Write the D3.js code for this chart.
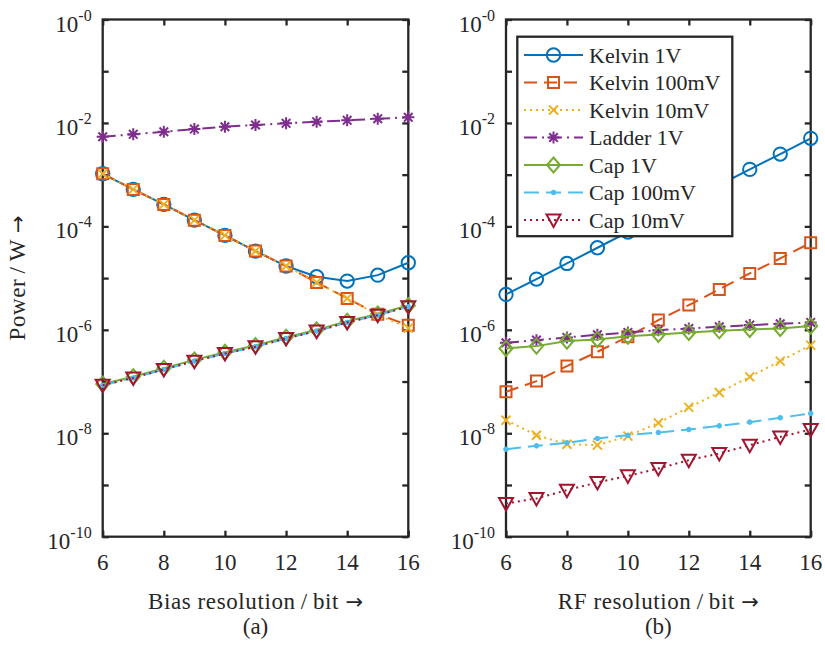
<!DOCTYPE html>
<html>
<head>
<meta charset="utf-8">
<script src="https://cdn.jsdelivr.net/npm/d3@7"></script>
<style>
  html, body { margin: 0; padding: 0; background: #fff; }
  svg { display: block; }
  text { fill: #262626; }
</style>
</head>
<body>
<svg id="chart" width="825" height="645"></svg>
<script>
// Resolution in bits (shared x values of both panels)
const bits = [6, 7, 8, 9, 10, 11, 12, 13, 14, 15, 16];
const xTickValues = [6, 8, 10, 12, 14, 16];
const yTickExponents = [0, -1, -2, -3, -4, -5, -6, -7, -8, -9, -10];
const yLabelExponents = [0, -2, -4, -6, -8, -10];

const seriesNames = ["Kelvin 1V", "Kelvin 100mV", "Kelvin 10mV", "Ladder 1V", "Cap 1V", "Cap 100mV", "Cap 10mV"];

// (a) power versus bias resolution, in W
const biasKelvin1V   = [1.04e-3, 5.19e-4, 2.66e-4, 1.32e-4, 6.70e-5, 3.33e-5, 1.71e-5, 1.06e-5, 8.75e-6, 1.14e-5, 1.98e-5];
const biasKelvin100m = [1.04e-3, 5.19e-4, 2.66e-4, 1.32e-4, 6.70e-5, 3.33e-5, 1.71e-5, 8.26e-6, 4.05e-6, 2.00e-6, 1.23e-6];
const biasKelvin10m  = [1.04e-3, 5.19e-4, 2.66e-4, 1.32e-4, 6.70e-5, 3.33e-5, 1.71e-5, 8.26e-6, 4.05e-6, 1.95e-6, 1.08e-6];
const biasLadder1V   = [5.41e-3, 6.03e-3, 6.76e-3, 7.62e-3, 8.45e-3, 9.12e-3, 9.82e-3, 1.057e-2, 1.122e-2, 1.208e-2, 1.282e-2];
const biasCap1V      = [9.00e-8, 1.24e-7, 1.81e-7, 2.62e-7, 3.68e-7, 4.96e-7, 7.20e-7, 9.97e-7, 1.47e-6, 2.03e-6, 2.95e-6];
const biasCap100m    = [8.51e-8, 1.175e-7, 1.714e-7, 2.48e-7, 3.49e-7, 4.70e-7, 6.82e-7, 9.44e-7, 1.39e-6, 1.92e-6, 2.79e-6];
const biasCap10m     = [8.51e-8, 1.175e-7, 1.714e-7, 2.48e-7, 3.49e-7, 4.70e-7, 6.82e-7, 9.44e-7, 1.39e-6, 1.92e-6, 2.79e-6];

// (b) power versus RF resolution, in W
const rfKelvin1V   = [4.83e-6, 9.57e-6, 1.92e-5, 3.86e-5, 7.76e-5, 1.55e-4, 3.09e-4, 6.31e-4, 1.265e-3, 2.50e-3, 5.04e-3];
const rfKelvin100m = [6.32e-8, 1.02e-7, 1.99e-7, 3.76e-7, 7.33e-7, 1.54e-6, 3.01e-6, 6.04e-6, 1.23e-5, 2.40e-5, 4.82e-5];
const rfKelvin10m  = [1.79e-8, 9.18e-9, 6.15e-9, 5.89e-9, 8.79e-9, 1.59e-8, 3.16e-8, 6.15e-8, 1.23e-7, 2.48e-7, 5.06e-7];
const rfLadder1V   = [5.61e-7, 6.32e-7, 7.13e-7, 8.02e-7, 8.91e-7, 9.86e-7, 1.062e-6, 1.143e-6, 1.233e-6, 1.306e-6, 1.39e-6];
const rfCap1V      = [4.37e-7, 4.84e-7, 6.05e-7, 6.52e-7, 7.55e-7, 8.15e-7, 8.91e-7, 9.57e-7, 1.016e-6, 1.062e-6, 1.18e-6];
const rfCap100m    = [4.92e-9, 5.71e-9, 6.53e-9, 7.94e-9, 9.18e-9, 1.035e-8, 1.18e-8, 1.39e-8, 1.64e-8, 1.99e-8, 2.42e-8];
const rfCap10m     = [4.39e-10, 5.48e-10, 7.94e-10, 1.12e-9, 1.50e-9, 2.08e-9, 3.02e-9, 4.07e-9, 5.89e-9, 8.51e-9, 1.18e-8];

const biasSeries = [biasKelvin1V, biasKelvin100m, biasKelvin10m, biasLadder1V, biasCap1V, biasCap100m, biasCap10m];
const rfSeries   = [rfKelvin1V, rfKelvin100m, rfKelvin10m, rfLadder1V, rfCap1V, rfCap100m, rfCap10m];

// line / marker styling per series
const styles = [
  { color: "#0072BD", dash: null,          marker: "circle"   },
  { color: "#D95319", dash: "13,7",        marker: "square"   },
  { color: "#EDB120", dash: "2,4",         marker: "x"        },
  { color: "#7E2F8E", dash: "13,5,2,5",    marker: "asterisk" },
  { color: "#77AC30", dash: null,          marker: "diamond"  },
  { color: "#4DBEEE", dash: "15,7",        marker: "dot"      },
  { color: "#A2142F", dash: "2,4",         marker: "triangleDown" }
];

const markerPaths = {
  circle: d3.symbol(d3.symbolCircle, 140)(),
  square: "M-5.5,-5.5H5.5V5.5H-5.5Z",
  x: "M-4.5,-4.5L4.5,4.5M-4.5,4.5L4.5,-4.5",
  asterisk: "M-6,0H6M0,-6V6M-4.3,-4.3L4.3,4.3M-4.3,4.3L4.3,-4.3",
  diamond: "M0,-7.5L6.5,0L0,7.5L-6.5,0Z",
  dot: d3.symbol(d3.symbolCircle, 10)(),
  triangleDown: "M-7,-5.5L7,-5.5L0,7Z"
};

const fontStack = "'Liberation Serif', 'Times New Roman', Tinos, 'DejaVu Serif', serif";
const arrowFont = "'DejaVu Sans', sans-serif";

const svg = d3.select("#chart").attr("font-family", fontStack);
const axisColor = "#262626";
const plotTop = 19.5, plotBottom = 536.7;

const panels = [
  { x0: 102.7, x1: 408.3, data: biasSeries, xlabel: "Bias resolution\u2009/\u2009bit ", tag: "(a)", legend: false },
  { x0: 506.0, x1: 810.7, data: rfSeries,   xlabel: "RF resolution\u2009/\u2009bit ",   tag: "(b)", legend: true }
];

function drawMarker(g, type, color) {
  const filled = type === "dot";
  g.append("path")
    .attr("d", markerPaths[type])
    .attr("fill", filled ? color : "none")
    .attr("stroke", color)
    .attr("stroke-width", 2)
    .attr("stroke-linejoin", "miter");
}

// label text followed by a wide right arrow
function arrowLabel(sel, str) {
  sel.append("tspan").text(str);
  sel.append("tspan").attr("font-family", arrowFont).attr("font-size", 21).attr("letter-spacing", 0).text("\u2192");
}

panels.forEach(p => {
  const x = d3.scaleLinear().domain([6, 16]).range([p.x0, p.x1]);
  const y = d3.scaleLog().domain([1e-10, 1]).range([plotBottom, plotTop]);
  const g = svg.append("g");

  // frame
  g.append("rect")
    .attr("x", p.x0).attr("y", plotTop)
    .attr("width", p.x1 - p.x0).attr("height", plotBottom - plotTop)
    .attr("fill", "none").attr("stroke", axisColor).attr("stroke-width", 2.3);

  // inward ticks on all four sides
  const tickLen = 6;
  const decades = yTickExponents.map(e => Math.pow(10, e));
  const axes = [
    { gen: d3.axisBottom(x).tickValues(xTickValues).tickSize(-tickLen).tickFormat(""), t: `translate(0,${plotBottom})` },
    { gen: d3.axisTop(x).tickValues(xTickValues).tickSize(-tickLen).tickFormat(""),    t: `translate(0,${plotTop})` },
    { gen: d3.axisLeft(y).tickValues(decades).tickSize(-tickLen).tickFormat(""),      t: `translate(${p.x0},0)` },
    { gen: d3.axisRight(y).tickValues(decades).tickSize(-tickLen).tickFormat(""),     t: `translate(${p.x1},0)` }
  ];
  axes.forEach(a => {
    const ag = g.append("g").attr("transform", a.t).call(a.gen.tickSizeOuter(0));
    ag.attr("font-family", null);
    ag.select(".domain").remove();
    ag.selectAll(".tick line").attr("stroke", axisColor).attr("stroke-width", 2.3);
  });

  // x tick labels
  g.selectAll(".xl").data(xTickValues).join("text")
    .attr("x", d => x(d)).attr("y", plotBottom + 33)
    .attr("text-anchor", "middle")
    .attr("font-size", 23)
    .text(d => d);

  // y tick labels 10^-k
  const yl = g.selectAll(".yl").data(yLabelExponents).join("text")
    .attr("x", p.x0 - 11).attr("y", d => y(Math.pow(10, d)) + 12)
    .attr("text-anchor", "end")
    .attr("font-size", 23);
  yl.append("tspan").text("10");
  yl.append("tspan").attr("dy", -11).attr("font-size", 16).text(d => "-" + Math.abs(d));

  // x axis label and panel tag
  const cx = (p.x0 + p.x1) / 2;
  g.append("text").attr("x", cx).attr("y", 609).attr("text-anchor", "middle")
    .attr("font-size", 23).attr("letter-spacing", 0.6)
    .call(arrowLabel, p.xlabel);
  g.append("text").attr("x", cx).attr("y", 634).attr("text-anchor", "middle")
    .attr("font-size", 23).text(p.tag);

  // series lines and markers
  const line = d3.line().x((d, i) => x(bits[i])).y(d => y(d));
  p.data.forEach((vals, si) => {
    const st = styles[si];
    g.append("path")
      .attr("d", line(vals))
      .attr("fill", "none")
      .attr("stroke", st.color)
      .attr("stroke-width", 2)
      .attr("stroke-dasharray", st.dash);
    vals.forEach((v, i) => {
      const mg = g.append("g").attr("transform", `translate(${x(bits[i])},${y(v)})`);
      drawMarker(mg, st.marker, st.color);
    });
  });

  // legend
  if (p.legend) {
    const lx = 517.3, ly = 36.7, lw = 215, lh = 199.5;
    const lg = g.append("g");
    lg.append("rect").attr("x", lx).attr("y", ly).attr("width", lw).attr("height", lh)
      .attr("fill", "#fff").attr("stroke", axisColor).attr("stroke-width", 2.3);
    seriesNames.forEach((name, i) => {
      const ry = 55 + i * 27.5;
      const st = styles[i];
      lg.append("line").attr("x1", 524).attr("x2", 583).attr("y1", ry).attr("y2", ry)
        .attr("stroke", st.color).attr("stroke-width", 2).attr("stroke-dasharray", st.dash);
      drawMarker(lg.append("g").attr("transform", `translate(553.5,${ry})`), st.marker, st.color);
      lg.append("text").attr("x", 589).attr("y", ry + 7.5)
        .attr("font-size", 22).text(name);
    });
  }
});

// shared y axis label
svg.append("text")
  .attr("transform", "translate(25,278) rotate(-90)")
  .attr("text-anchor", "middle")
  .attr("font-size", 23).attr("letter-spacing", 0.6)
  .call(arrowLabel, "Power\u2009/\u2009W ");
</script>
</body>
</html>
